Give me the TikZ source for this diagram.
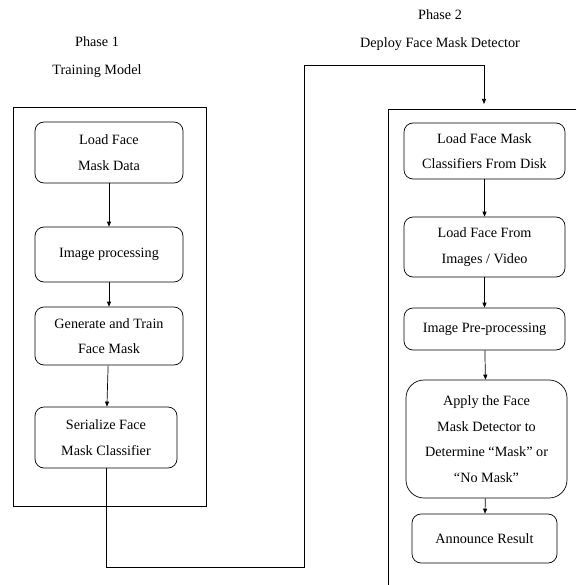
\documentclass[tikz,border=0pt]{standalone}
\usepackage{fontspec}
\setmainfont{Liberation Serif}
\usepackage{tikz}
\usetikzlibrary{positioning,arrows.meta}

\begin{document}
\begin{tikzpicture}[x=1pt, y=-1pt, line width=0.7pt,
                  every node/.style={font=\fontsize{14.2}{25.5}\selectfont, align=center, inner sep=0pt},
                  title/.style={font=\fontsize{14.2}{27.5}\selectfont},
                  stage/.style={draw, rounded corners=9pt, minimum width=148pt},
                  flow/.style={-{Triangle[length=5pt,width=4pt]}}]
    \useasboundingbox (0,0) rectangle (576,585);
    % phase titles
    \node (T1) [title] at (97,57) {Phase 1\\Training Model};
    \node (T2) [title] at (440,30) {Phase 2\\Deploy Face Mask Detector};
    % frames
    \draw (13,107) rectangle (206,506);
    \draw (576,109) -- (388,109) -- (388,585);
    % phase 1
    \node (A) [stage, minimum height=61pt] at (109,152.5) {Load Face\\Mask Data};
    \node (B) [stage, minimum height=55pt] at (109,254.5) {Image processing};
    \node (C) [stage, minimum height=58pt] at (109,336) {Generate and Train\\Face Mask};
    \node (D) [stage, minimum height=61pt, minimum width=142pt] at (106,437.5) {Serialize Face\\Mask Classifier};
    % phase 2
    \node (P) [stage, minimum height=56pt, minimum width=161pt] at (484.5,151) {Load Face Mask\\Classifiers From Disk};
    \node (Q) [stage, minimum height=60pt, minimum width=161pt] at (484.5,247) {Load Face From\\Images / Video};
    \node (R) [stage, minimum height=42pt, minimum width=161pt] at (484.5,329) {Image Pre-processing};
    \node (S) [stage, minimum height=118pt, minimum width=161pt, rounded corners=18pt] at (486.5,439) {Apply the Face\\Mask Detector to\\Determine “Mask” or\\“No Mask”};
    \node (U) [stage, minimum height=49pt, minimum width=145pt] at (484.5,538.5) {Announce Result};
    \coordinate (in2) at (484,104);
    \draw[flow] (A) -- (B);
    \draw[flow] (B) -- (C);
    \draw[flow] (C) -- (D);
    \draw (D.south) -- (106,567) -- (304,567) -- (304,65) -- (484,65) [flow] -- (in2);
    \draw[flow] (P) -- (Q);
    \draw[flow] (Q) -- (R);
    \draw[flow] (R) -- (S);
    \draw[flow] (S) -- (U);
  \end{tikzpicture}
\end{document}
